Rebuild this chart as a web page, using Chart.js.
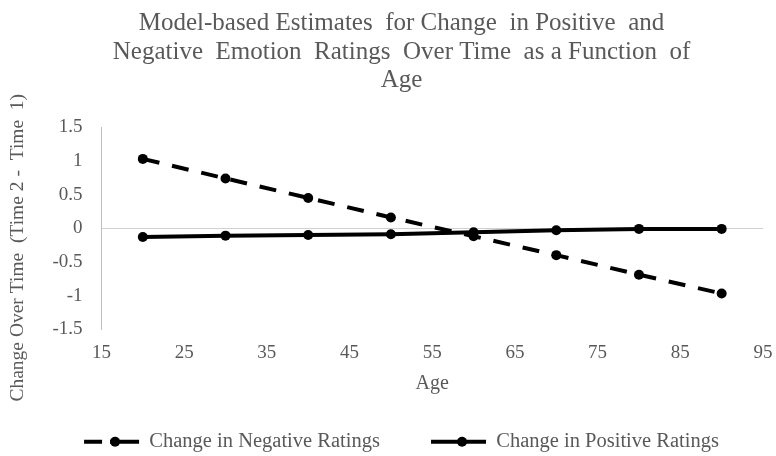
<!DOCTYPE html>
<html>
<head>
<meta charset="utf-8">
<script src="https://cdn.jsdelivr.net/npm/chart.js@4.4.1/dist/chart.umd.min.js"></script>
<style>
  html, body { margin: 0; padding: 0; background: #fff; }
  #wrap { width: 776px; height: 456px; }
</style>
</head>
<body>
<div id="wrap"><canvas id="ageChart" width="776" height="456"></canvas></div>
<script>
const ages = [20, 30, 40, 50, 60, 70, 80, 90];
const negativeChange = [1.03, 0.74, 0.45, 0.16, -0.12, -0.40, -0.69, -0.97];
const positiveChange = [-0.13, -0.11, -0.10, -0.09, -0.06, -0.03, -0.01, -0.01];
const titleLines = [
  'Model-based Estimates  for Change  in Positive  and',
  'Negative  Emotion  Ratings  Over Time  as a Function  of',
  'Age'
];

const grey = '#595959';
const serif = "'Liberation Serif', 'Times New Roman', serif";

// dots in the middle of the legend lines
const legendDots = {
  id: 'legendDots',
  afterDraw(chart) {
    const lg = chart.legend;
    if (!lg || !lg.legendHitBoxes) return;
    const ctx = chart.ctx;
    ctx.save();
    ctx.fillStyle = '#000';
    lg.legendHitBoxes.forEach(b => {
      ctx.beginPath();
      ctx.arc(b.left + 31, b.top + b.height / 2, 5, 0, Math.PI * 2);
      ctx.fill();
    });
    ctx.restore();
  }
};

const toXY = vals => ages.map((a, i) => ({ x: a, y: vals[i] }));

new Chart(document.getElementById('ageChart'), {
  type: 'line',
  data: {
    datasets: [
      {
        label: 'Change in Negative Ratings         ',
        data: toXY(negativeChange),
        borderColor: '#000',
        backgroundColor: '#000',
        borderWidth: 4,
        borderDash: [17, 13],
        pointRadius: 5,
        pointBorderWidth: 0,
        pointBackgroundColor: '#000'
      },
      {
        label: 'Change in Positive Ratings',
        data: toXY(positiveChange),
        borderColor: '#000',
        backgroundColor: '#000',
        borderWidth: 4,
        pointRadius: 5,
        pointBorderWidth: 0,
        pointBackgroundColor: '#000'
      }
    ]
  },
  options: {
    responsive: false,
    animation: false,
    layout: { padding: { left: 2, right: -25, top: 0, bottom: -6 } },
    plugins: {
      title: {
        display: true,
        text: titleLines,
        color: grey,
        font: { family: serif, size: 25, weight: 'normal', lineHeight: 1.15 },
        padding: { top: 9, bottom: 32 }
      },
      legend: {
        position: 'bottom',
        labels: {
          usePointStyle: true,
          pointStyleWidth: 55,
          color: grey,
          font: { family: serif, size: 20.5 },
          padding: 5,
          generateLabels: chart => Chart.defaults.plugins.legend.labels.generateLabels(chart)
            .map(l => ({
              ...l,
              pointStyle: 'line',
              lineWidth: 4,
              fillStyle: '#000',
              strokeStyle: '#000',
              lineDash: l.datasetIndex === 0 ? [18, 8, 40, 0] : []
            }))
        }
      },
      tooltip: { enabled: false }
    },
    scales: {
      x: {
        type: 'linear',
        min: 15,
        max: 95,
        ticks: { stepSize: 10, color: grey, font: { family: serif, size: 19 }, padding: 3.5 },
        grid: { display: false, drawTicks: true, tickLength: 8.5 },
        border: { display: false },
        title: {
          display: true,
          text: 'Age',
          color: grey,
          font: { family: serif, size: 20, lineHeight: 0.8 },
          padding: { top: 8, bottom: 35 }
        }
      },
      y: {
        min: -1.5,
        max: 1.5,
        ticks: {
          stepSize: 0.5,
          color: grey,
          font: { family: serif, size: 19 },
          padding: 19,
          callback: v => String(v)
        },
        grid: {
          drawTicks: false,
          color: c => c.tick && c.tick.value === 0 ? '#d0d0d0' : 'transparent'
        },
        border: { display: true, color: '#bfbfbf' },
        title: {
          display: true,
          text: 'Change Over Time  (Time 2 -  Time  1)        ',
          color: grey,
          font: { family: serif, size: 19.5 },
          padding: { top: 4, bottom: 4 }
        }
      }
    }
  },
  plugins: [legendDots]
});
</script>
</body>
</html>
